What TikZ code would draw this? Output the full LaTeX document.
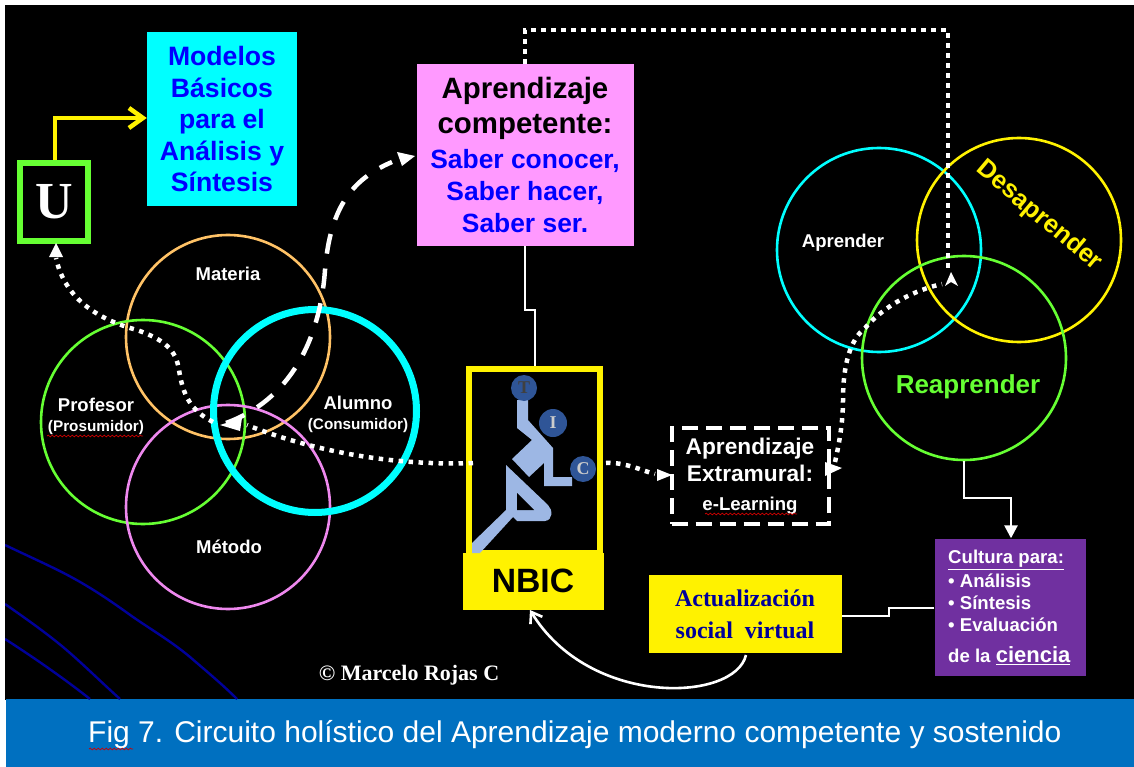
\documentclass[tikz,border=0pt]{standalone}
\usepackage{fontspec}
\setmainfont{Liberation Sans}
\newfontfamily\serifb{Liberation Serif}
\usetikzlibrary{arrows.meta,decorations.pathmorphing,calc}
\definecolor{capblue}{HTML}{0070C0}
\definecolor{purp}{HTML}{7030A0}
\definecolor{cyanb}{HTML}{00FFFF}
\definecolor{pinkb}{HTML}{FF99FF}
\definecolor{limeb}{HTML}{66FF33}
\definecolor{orangeb}{HTML}{FFC266}
\definecolor{violetc}{HTML}{EE88EE}
\definecolor{body}{HTML}{9DB7E4}
\definecolor{ball}{HTML}{2F5597}
\definecolor{curveb}{HTML}{000099}
\newcommand{\subfont}{\fontsize{15.3}{17}\selectfont}
\tikzset{
 x=1pt,y=-1pt,
 ring/.style={circle,draw=#1,line width=2.6pt,minimum size=204pt,inner sep=0pt},
 lbl/.style={text=white,font=\bfseries\fontsize{18.5}{21}\selectfont,align=center},
 dotline/.style={draw=white,line width=4.5pt,dash pattern=on 4.5pt off 5.5pt},
 dashline/.style={draw=white,line width=4.5pt,dash pattern=on 20pt off 15pt},
 solidw/.style={draw=white,line width=2.6pt},
 tip/.style={-{Triangle[length=13pt,width=13pt,fill=white]}},
 wav/.style={draw=red!80!black,line width=0.7pt,decorate,decoration={snake,amplitude=0.9pt,segment length=4pt}},
 ballnode/.style={circle,fill=ball,draw=none,minimum size=26pt,inner sep=0pt,font=\serifb\bfseries\fontsize{18}{18}\selectfont},
 curve/.style={draw=curveb,line width=2.4pt},
}
\begin{document}
\begin{tikzpicture}
\useasboundingbox (0,0) rectangle (1134,767);
\fill[white] (0,0) rectangle (1134,767);
\fill[black] (5,5) rectangle (1134,700);
\fill[capblue] (6,699) rectangle (1134,767);
% blue curves
\begin{scope}
\clip (5,5) rectangle (1134,699);
\draw[curve] (5,545) .. controls (30,557) and (55,568) .. (73,578) .. controls (95,590) and (115,604) .. (133,617) .. controls (155,632) and (172,642) .. (190,657) .. controls (205,670) and (222,684) .. (237,699);
\draw[curve] (5,604) .. controls (25,618) and (45,632) .. (63,647) .. controls (82,663) and (100,681) .. (120,699);
\draw[curve] (5,639) .. controls (33,657) and (62,677) .. (90,699);
\end{scope}
% rings
\node[ring=orangeb] (materia) at (228,337) {};
\node[ring=limeb] (profesor) at (143,422) {};
\node[ring=violetc] (metodo) at (228,507) {};
\node[ring=cyanb,line width=7pt,minimum size=203pt] (alumno) at (315,411) {};
\node[ring=cyanb] (aprender) at (879,250) {};
\node[ring={yellow}] (desaprender) at (1019,240) {};
\node[ring=limeb] (reaprender) at (964,358) {};
% ring labels
\node[lbl] (tmat) at (228,274) {Materia};
\node[lbl] (tprof) at (96,416) {Profesor\\[-1pt]{\subfont (Prosumidor)}};
\node[lbl] (talum) at (358,414) {Alumno\\[-1pt]{\subfont (Consumidor)}};
\node[lbl] (tmet) at (229,547) {Método};
\node[lbl] (tapr) at (843,243) {Aprender};
\node[text=yellow,font=\bfseries\fontsize{25.5}{26}\selectfont,rotate=-40] (tdes) at (1039,216) {Desaprender};
\node[text=limeb,font=\bfseries\fontsize{26}{26}\selectfont] (trea) at (968,387) {Reaprender};
\draw[wav] (47,436) -- (143,436);
% boxes
\node[draw=limeb,line width=6pt,fill=black,minimum width=68pt,minimum height=78pt,inner sep=0pt,text=white,font=\serifb\bfseries\fontsize{52}{52}\selectfont] (u) at (54,202) {U};
\node[fill=cyanb,minimum width=150pt,minimum height=174pt,inner sep=0pt,align=center,text=blue,font=\bfseries\fontsize{26.6}{31.5}\selectfont] (modelos) at (222,119) {Modelos\\Básicos\\para el\\Análisis y\\Síntesis};
\node[fill=pinkb,minimum width=217pt,minimum height=182pt,inner sep=0pt,align=center,text=black,font=\bfseries\fontsize{29.4}{35}\selectfont] (apcomp) at (525,155) {Aprendizaje\\competente:\\[0pt]\textcolor{blue}{\fontsize{26.4}{32}\selectfont Saber conocer,}\\[-3pt]\textcolor{blue}{\fontsize{26.4}{32}\selectfont Saber hacer,}\\[-3pt]\textcolor{blue}{\fontsize{26.4}{32}\selectfont Saber ser.}};
\node[draw=yellow,line width=6pt,minimum width=131pt,minimum height=184pt,inner sep=0pt] (tic) at (534.5,461) {};
\node[fill=yellow,minimum width=141pt,minimum height=57pt,inner sep=0pt,text=black,font=\bfseries\fontsize{33.7}{33.7}\selectfont] (nbic) at (533,581) {NBIC};
\node[draw=white,line width=4pt,dash pattern=on 16pt off 8pt,minimum width=157pt,minimum height=96pt,inner sep=0pt,align=center,text=white,font=\bfseries\fontsize{22.7}{27.5}\selectfont] (extra) at (750,476) {Aprendizaje\\Extramural:\\[1pt]{\fontsize{18.6}{22}\selectfont e-Learning}};
\draw[wav] (705,514) -- (797,514);
\node[fill=yellow,minimum width=193pt,minimum height=78pt,inner sep=0pt,align=center,text=blue!60!black,font=\serifb\bfseries\fontsize{24}{32}\selectfont] (actual) at (745,614) {Actualización\\social\ \ virtual};
\node[fill=purp,minimum width=151pt,minimum height=137pt,inner sep=0pt] (cultura) at (1010,607) {};
\node[anchor=north west,align=left,text=white,font=\bfseries\fontsize{18.6}{22.4}\selectfont,inner sep=0pt] (tcult) at (948,550) {\underline{Cultura para:}\\[1pt]• Análisis\\• Síntesis\\• Evaluación\\[8pt]de la {\fontsize{22}{22}\selectfont\underline{ciencia}}};
\node[text=white,font=\serifb\bfseries\fontsize{22}{22}\selectfont] (copy) at (409,675) {© Marcelo Rojas C};
% TIC figure
\fill[body] (517,400) -- (528,400) -- (528,420) -- (553,448) -- (553,477) -- (572,477) -- (572,486) -- (544,486) -- (544,463) -- (529,477) -- (512,459) -- (532,440) -- (517,428) -- cycle;
\fill[body] (506,465) -- (548,505) .. controls (553,510) and (553,520) .. (545,521) -- (517,521) -- (513,517) -- (480,553) -- (472,553) -- (472,543) -- (506,510) -- cycle;
\fill[black] (517,493) -- (534,510) -- (517,510) -- cycle;
\node[ballnode,text=black!75] (t) at (524,388) {T};
\node[ballnode,text=white!80!black,minimum size=28pt] (i) at (553,423) {I};
\node[ballnode,text=white!80!black] (c) at (583,469) {C};
% connectors
\draw[solidw] (apcomp.south) -- (525,310) -- (535,310) -- (tic.north -| 535,0);
\draw[draw=yellow,line width=4.5pt,-{Straight Barb[length=14pt,width=20pt]}] (u.north -| 55,0) -- (55,118) -- (modelos.west |- 0,118);
\draw[dotline] (473,463) .. controls (395,466) and (315,452) .. (247,425);
\draw[dotline] (213,422) .. controls (190,410) and (183,395) .. (179,370) .. controls (176,350) and (165,340) .. (137,330) .. controls (100,320) and (65,300) .. (56,258);
\fill[white] (49,257) -- (56,243) -- (63,257) -- cycle;
\fill[white] (220,425) -- (242,418) -- (240,431) -- cycle;
\draw[dashline] (226,423) .. controls (290,400) and (320,340) .. (325,270) .. controls (330,210) and (350,180) .. (392,162);
\fill[white] (397,152) -- (415,156) -- (402,166) -- cycle;
\draw[dotline] (606,463) .. controls (625,462) and (640,470) .. (655,474);
\fill[white] (657,469) -- (672,475) -- (657,481) -- cycle;
\draw[dotline] (835,462) .. controls (840,440) and (843,420) .. (843,400) .. controls (843,365) and (850,340) .. (865,328) .. controls (885,305) and (915,290) .. (942,284);
\fill[white] (825,462) -- (842,468) -- (825,476) -- cycle;
\fill[white] (945,286) -- (951,272) -- (958,286) -- (951,282) -- cycle;
\draw[dotline] (apcomp.north -| 525,0) -- (525,30) -- (948,30) -- (948,270);
\draw[solidw,tip] (reaprender.south) -- (964,498) -- (1011,498) -- (cultura.north -| 1011,0);
\draw[solidw] (cultura.west |- 0,608) -- (889,608) -- (889,616) -- (actual.east |- 0,616);
\draw[solidw,-{Straight Barb[length=10pt,width=14pt]}] (746,655) .. controls (735,702) and (590,708) .. (530,610);
% caption
\node[anchor=west,text=white,font=\fontsize{30}{30}\selectfont,inner sep=0pt] (cap) at (88,735) {Fig 7. Circuito holístico del Aprendizaje moderno competente y sostenido};
\draw[wav] (89,749) -- (133,749);
\end{tikzpicture}
\end{document}
